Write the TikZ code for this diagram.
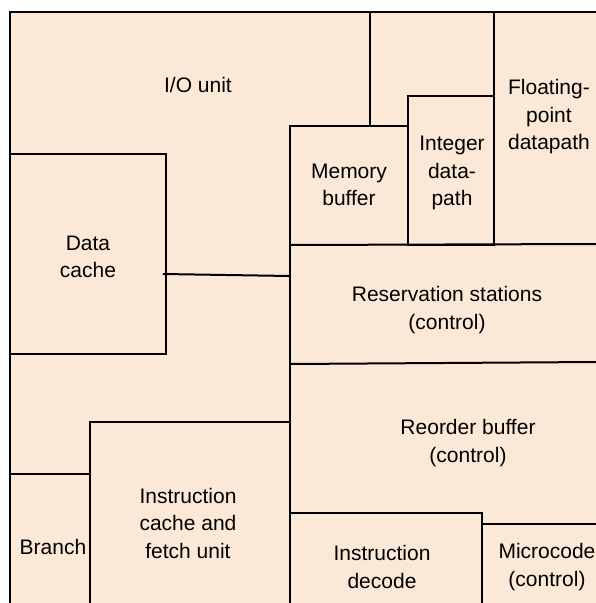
\documentclass[tikz,border=0pt]{standalone}
\usepackage{fontspec}
\setmainfont{Liberation Sans}
\usetikzlibrary{positioning}
\definecolor{diefill}{HTML}{FCE8D7}

\begin{document}
\begin{tikzpicture}[x=1pt,y=-1pt,
    wall/.style={line width=2pt},
    unitlabel/.style={align=center,inner sep=0pt,
        font=\fontsize{21}{27.5}\selectfont}]
    \useasboundingbox (0,0) rectangle (596,603);
    \fill[diefill] (10,12) rectangle (596,603);

    % die outline and unit walls
    \draw[wall] (596,12) -- (10,12) -- (10,603);
    \draw[wall] (10,154) -| (166,354) -- (10,354);
    \draw[wall] (370,12) -- (370,126);
    \draw[wall] (290,603) |- (408,126) -- (408,245);
    \draw[wall] (408,96) rectangle (494,245);
    \draw[wall] (494,12) -- (494,96);
    \draw[wall] (290,245) -- (596,244);
    \draw[wall] (290,364) -- (596,362);
    \draw[wall] (10,474) -- (90,474);
    \draw[wall] (90,603) |- (290,422);
    \draw[wall] (290,513) -| (482,603);
    \draw[wall] (482,524) -- (596,524);

    % unit names
    \node[unitlabel] (io) at (198,85) {I/O unit};
    \node[unitlabel] (dcache) at (88,257) {Data\\cache};
    \node[unitlabel] (membuf) at (349,185) {Memory\\buffer};
    \node[unitlabel] (intdp) at (452,173) {Integer\\data-\\path};
    \node[unitlabel] (fpdp) at (549,117) {Floating-\\point\\datapath};
    \node[unitlabel] (resst) at (447,310) {Reservation stations\\(control)};
    \node[unitlabel] (rob) at (468,443) {Reorder buffer\\(control)};
    \node[unitlabel] (icache) at (188,523) {Instruction\\cache and\\fetch unit};
    \node[unitlabel] (branch) at (53,547) {Branch};
    \node[unitlabel] (idecode) at (382,567) {Instruction\\decode};
    \node[unitlabel] (ucode) at (547,567) {Microcode\\(control)};

    % data cache to reservation stations
    \coordinate (dcache-port) at (163,274);
    \coordinate (resst-port) at (290,276);
    \draw[wall] (dcache-port) -- (resst-port);
\end{tikzpicture}
\end{document}
